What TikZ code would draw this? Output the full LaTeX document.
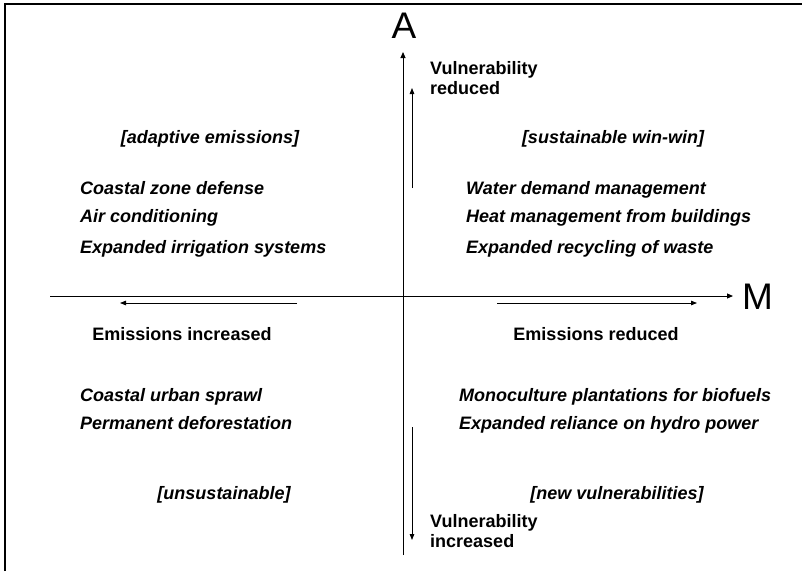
\documentclass[tikz,border=0pt]{standalone}
\usepackage{fontspec}
\setmainfont{Liberation Sans}
\usetikzlibrary{arrows.meta}
\begin{document}
\begin{tikzpicture}[x=1pt,y=-1pt,
  axis/.style={line width=1pt,-{Triangle[length=6pt,width=5pt]}},
  trend/.style={line width=0.8pt,-{Triangle[length=6pt,width=4.5pt]}},
  axislabel/.style={font=\fontsize{37}{40}\selectfont, inner sep=0pt},
  dirlabel/.style={font=\bfseries\fontsize{18}{20}\selectfont, inner sep=0pt, align=left},
  heading/.style={font=\bfseries\itshape\fontsize{18}{20}\selectfont, inner sep=0pt,
    text height=13pt, text depth=0pt},
  item/.style={font=\bfseries\itshape\fontsize{18}{20}\selectfont, inner sep=0pt, anchor=west,
    text height=13pt, text depth=0pt},
]
\useasboundingbox (0,0) rectangle (802,571);
\fill[white] (0,0) rectangle (802,571);

% frame: top and left edges only
\coordinate (fl) at (5,571);
\coordinate (tl) at (5,4);
\coordinate (tr) at (802,4);
\draw[line width=1.3pt] (fl) -- (tl) -- (tr);

% axes
\coordinate (vbot) at (403,555);
\coordinate (vtop) at (403,52);
\coordinate (hleft) at (50,296);
\coordinate (hright) at (733,296);
\draw[axis] (vbot) -- (vtop);
\draw[axis] (hleft) -- (hright);
\node[axislabel] (A) at (404,26) {A};
\node[axislabel, anchor=west] (M) at (742,297) {M};

% direction arrows
\coordinate (upS) at (412,188);
\coordinate (upE) at (412,88);
\draw[trend] (upS) -- (upE);
\coordinate (dnS) at (412,427);
\coordinate (dnE) at (412,540);
\draw[trend] (dnS) -- (dnE);
\coordinate (lfS) at (297,303);
\coordinate (lfE) at (120,303);
\draw[trend] (lfS) -- (lfE);
\coordinate (rtS) at (497,303);
\coordinate (rtE) at (697,303);
\draw[trend] (rtS) -- (rtE);

\node[dirlabel, anchor=west] (vred) at (430,78) {Vulnerability\\reduced};
\node[dirlabel, anchor=west] (vinc) at (430,531) {Vulnerability\\increased};
\node[dirlabel, text height=13pt, text depth=0pt] (einc) at (182,334) {Emissions increased};
\node[dirlabel, text height=13pt, text depth=0pt] (ered) at (596,334) {Emissions reduced};

% quadrant headings
\node[heading] (q2) at (210,137) {[adaptive emissions]};
\node[heading] (q1) at (613,137) {[sustainable win-win]};
\node[heading] (q3) at (224,493) {[unsustainable]};
\node[heading] (q4) at (617,493) {[new vulnerabilities]};

% quadrant examples
\node[item] (a1) at (80,188) {Coastal zone defense};
\node[item] (a2) at (80,216) {Air conditioning};
\node[item] (a3) at (80,247) {Expanded irrigation systems};
\node[item] (s1) at (466,188) {Water demand management};
\node[item] (s2) at (466,216) {Heat management from buildings};
\node[item] (s3) at (466,247) {Expanded recycling of waste};
\node[item] (u1) at (80,395) {Coastal urban sprawl};
\node[item] (u2) at (80,423) {Permanent deforestation};
\node[item] (n1) at (459,395) {Monoculture plantations for biofuels};
\node[item] (n2) at (459,423) {Expanded reliance on hydro power};
\end{tikzpicture}
\end{document}
